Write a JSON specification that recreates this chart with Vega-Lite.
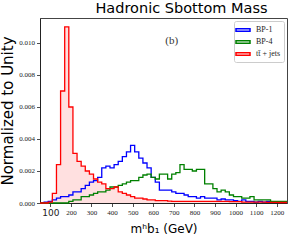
{
  "$schema": "https://vega.github.io/schema/vega-lite/v6.json",
  "width": 247,
  "height": 185,
  "autosize": {"type": "none"},
  "padding": {"left": 40, "top": 18, "right": 8, "bottom": 37},
  "background": "white",
  "title": {"text": "Hadronic Sbottom Mass", "font": "DejaVu Sans", "fontSize": 14.5, "fontWeight": "normal", "color": "black", "anchor": "middle", "frame": "group", "offset": 2, "dx": 18},
  "config": {
    "view": {"stroke": "#444444", "strokeWidth": 1},
    "axis": {"domainColor": "#222222", "tickColor": "#222222", "grid": false, "labelColor": "#222222", "tickSize": 3.5, "tickWidth": 0.8, "labelOverlap": false, "labelFlush": false}
  },
  "datasets": {
    "hist": [
      {"m":50,"s":"BP-1","v":0},{"m":70,"s":"BP-1","v":0.00005},{"m":90,"s":"BP-1","v":0.0001},{"m":110,"s":"BP-1","v":0.0002},{"m":130,"s":"BP-1","v":0.0003},{"m":150,"s":"BP-1","v":0.0004},{"m":170,"s":"BP-1","v":0.0004},{"m":190,"s":"BP-1","v":0.0005},{"m":210,"s":"BP-1","v":0.0007},{"m":230,"s":"BP-1","v":0.0007},{"m":250,"s":"BP-1","v":0.0009},{"m":270,"s":"BP-1","v":0.0011},{"m":290,"s":"BP-1","v":0.0013},{"m":310,"s":"BP-1","v":0.0014},{"m":330,"s":"BP-1","v":0.0016},{"m":350,"s":"BP-1","v":0.0022},{"m":370,"s":"BP-1","v":0.0023},{"m":390,"s":"BP-1","v":0.0022},{"m":410,"s":"BP-1","v":0.0024},{"m":430,"s":"BP-1","v":0.0026},{"m":450,"s":"BP-1","v":0.0029},{"m":470,"s":"BP-1","v":0.0032},{"m":490,"s":"BP-1","v":0.0036},{"m":510,"s":"BP-1","v":0.0032},{"m":530,"s":"BP-1","v":0.0028},{"m":550,"s":"BP-1","v":0.0025},{"m":570,"s":"BP-1","v":0.0022},{"m":590,"s":"BP-1","v":0.0016},{"m":610,"s":"BP-1","v":0.0013},{"m":630,"s":"BP-1","v":0.0008},{"m":650,"s":"BP-1","v":0.0008},{"m":670,"s":"BP-1","v":0.0008},{"m":690,"s":"BP-1","v":0.0007},{"m":710,"s":"BP-1","v":0.0006},{"m":730,"s":"BP-1","v":0.0006},{"m":750,"s":"BP-1","v":0.0005},{"m":770,"s":"BP-1","v":0.0004},{"m":790,"s":"BP-1","v":0.0004},{"m":810,"s":"BP-1","v":0.0003},{"m":830,"s":"BP-1","v":0.0004},{"m":850,"s":"BP-1","v":0.0003},{"m":870,"s":"BP-1","v":0.0003},{"m":890,"s":"BP-1","v":0.0003},{"m":910,"s":"BP-1","v":0.0002},{"m":930,"s":"BP-1","v":0.00025},{"m":950,"s":"BP-1","v":0.0002},{"m":970,"s":"BP-1","v":0.0002},{"m":990,"s":"BP-1","v":0.00015},{"m":1010,"s":"BP-1","v":0.0001},{"m":1030,"s":"BP-1","v":0.0002},{"m":1050,"s":"BP-1","v":0.0001},{"m":1070,"s":"BP-1","v":0.0001},{"m":1090,"s":"BP-1","v":0.00005},{"m":1110,"s":"BP-1","v":0.0001},{"m":1130,"s":"BP-1","v":0.00005},{"m":1150,"s":"BP-1","v":0.0001},{"m":1170,"s":"BP-1","v":0.00005},{"m":1190,"s":"BP-1","v":0.00005},{"m":1210,"s":"BP-1","v":0.00005},{"m":1230,"s":"BP-1","v":0.00005},{"m":1250,"s":"BP-1","v":0.00005},
      {"m":50,"s":"BP-4","v":0},{"m":70,"s":"BP-4","v":0},{"m":90,"s":"BP-4","v":0},{"m":110,"s":"BP-4","v":0},{"m":130,"s":"BP-4","v":0},{"m":150,"s":"BP-4","v":0},{"m":170,"s":"BP-4","v":0},{"m":190,"s":"BP-4","v":0.0001},{"m":210,"s":"BP-4","v":0.0002},{"m":230,"s":"BP-4","v":0.0002},{"m":250,"s":"BP-4","v":0.0004},{"m":270,"s":"BP-4","v":0.0004},{"m":290,"s":"BP-4","v":0.0005},{"m":310,"s":"BP-4","v":0.0006},{"m":330,"s":"BP-4","v":0.0007},{"m":350,"s":"BP-4","v":0.0007},{"m":370,"s":"BP-4","v":0.0008},{"m":390,"s":"BP-4","v":0.001},{"m":410,"s":"BP-4","v":0.001},{"m":430,"s":"BP-4","v":0.0011},{"m":450,"s":"BP-4","v":0.0012},{"m":470,"s":"BP-4","v":0.0013},{"m":490,"s":"BP-4","v":0.0014},{"m":510,"s":"BP-4","v":0.0014},{"m":530,"s":"BP-4","v":0.0016},{"m":550,"s":"BP-4","v":0.00175},{"m":570,"s":"BP-4","v":0.0018},{"m":590,"s":"BP-4","v":0.0016},{"m":610,"s":"BP-4","v":0.0015},{"m":630,"s":"BP-4","v":0.0018},{"m":650,"s":"BP-4","v":0.0018},{"m":670,"s":"BP-4","v":0.0015},{"m":690,"s":"BP-4","v":0.0018},{"m":710,"s":"BP-4","v":0.0019},{"m":730,"s":"BP-4","v":0.0024},{"m":750,"s":"BP-4","v":0.0021},{"m":770,"s":"BP-4","v":0.0021},{"m":790,"s":"BP-4","v":0.002},{"m":810,"s":"BP-4","v":0.0021},{"m":830,"s":"BP-4","v":0.0021},{"m":850,"s":"BP-4","v":0.0012},{"m":870,"s":"BP-4","v":0.0012},{"m":890,"s":"BP-4","v":0.0009},{"m":910,"s":"BP-4","v":0.0007},{"m":930,"s":"BP-4","v":0.0008},{"m":950,"s":"BP-4","v":0.0007},{"m":970,"s":"BP-4","v":0.0005},{"m":990,"s":"BP-4","v":0.0004},{"m":1010,"s":"BP-4","v":0.0004},{"m":1030,"s":"BP-4","v":0.0003},{"m":1050,"s":"BP-4","v":0.0003},{"m":1070,"s":"BP-4","v":0.0004},{"m":1090,"s":"BP-4","v":0.0002},{"m":1110,"s":"BP-4","v":0.0002},{"m":1130,"s":"BP-4","v":0.0002},{"m":1150,"s":"BP-4","v":0.0002},{"m":1170,"s":"BP-4","v":0.0001},{"m":1190,"s":"BP-4","v":0.0001},{"m":1210,"s":"BP-4","v":0.0001},{"m":1230,"s":"BP-4","v":0.0001},{"m":1250,"s":"BP-4","v":0.0001},
      {"m":50,"s":"tt̄ + jets","v":0},{"m":70,"s":"tt̄ + jets","v":0},{"m":90,"s":"tt̄ + jets","v":0.00005},{"m":110,"s":"tt̄ + jets","v":0.0006},{"m":130,"s":"tt̄ + jets","v":0.0024},{"m":150,"s":"tt̄ + jets","v":0.007},{"m":170,"s":"tt̄ + jets","v":0.011},{"m":190,"s":"tt̄ + jets","v":0.006},{"m":210,"s":"tt̄ + jets","v":0.0031},{"m":230,"s":"tt̄ + jets","v":0.0026},{"m":250,"s":"tt̄ + jets","v":0.0023},{"m":270,"s":"tt̄ + jets","v":0.002},{"m":290,"s":"tt̄ + jets","v":0.0018},{"m":310,"s":"tt̄ + jets","v":0.0015},{"m":330,"s":"tt̄ + jets","v":0.0013},{"m":350,"s":"tt̄ + jets","v":0.0012},{"m":370,"s":"tt̄ + jets","v":0.0009},{"m":390,"s":"tt̄ + jets","v":0.0009},{"m":410,"s":"tt̄ + jets","v":0.001},{"m":430,"s":"tt̄ + jets","v":0.0007},{"m":450,"s":"tt̄ + jets","v":0.0006},{"m":470,"s":"tt̄ + jets","v":0.0005},{"m":490,"s":"tt̄ + jets","v":0.0004},{"m":510,"s":"tt̄ + jets","v":0.0003},{"m":530,"s":"tt̄ + jets","v":0.0003},{"m":550,"s":"tt̄ + jets","v":0.00025},{"m":570,"s":"tt̄ + jets","v":0.0002},{"m":590,"s":"tt̄ + jets","v":0.0002},{"m":610,"s":"tt̄ + jets","v":0.00015},{"m":630,"s":"tt̄ + jets","v":0.00015},{"m":650,"s":"tt̄ + jets","v":0.00015},{"m":670,"s":"tt̄ + jets","v":0.00012},{"m":690,"s":"tt̄ + jets","v":0.0001},{"m":710,"s":"tt̄ + jets","v":0.0001},{"m":730,"s":"tt̄ + jets","v":0.0001},{"m":750,"s":"tt̄ + jets","v":0.0001},{"m":770,"s":"tt̄ + jets","v":0.0001},{"m":790,"s":"tt̄ + jets","v":0.0001},{"m":810,"s":"tt̄ + jets","v":0.0001},{"m":830,"s":"tt̄ + jets","v":0.0001},{"m":850,"s":"tt̄ + jets","v":0.0001},{"m":870,"s":"tt̄ + jets","v":0.0001},{"m":890,"s":"tt̄ + jets","v":0.0001},{"m":910,"s":"tt̄ + jets","v":0.0001},{"m":930,"s":"tt̄ + jets","v":0.0001},{"m":950,"s":"tt̄ + jets","v":0.0001},{"m":970,"s":"tt̄ + jets","v":0.00008},{"m":990,"s":"tt̄ + jets","v":0.00008},{"m":1010,"s":"tt̄ + jets","v":0.00008},{"m":1030,"s":"tt̄ + jets","v":0.00006},{"m":1050,"s":"tt̄ + jets","v":0.00006},{"m":1070,"s":"tt̄ + jets","v":0.00006},{"m":1090,"s":"tt̄ + jets","v":0.00005},{"m":1110,"s":"tt̄ + jets","v":0.00005},{"m":1130,"s":"tt̄ + jets","v":0.00005},{"m":1150,"s":"tt̄ + jets","v":0.00004},{"m":1170,"s":"tt̄ + jets","v":0.00004},{"m":1190,"s":"tt̄ + jets","v":0.00004},{"m":1210,"s":"tt̄ + jets","v":0.00003},{"m":1230,"s":"tt̄ + jets","v":0.00003},{"m":1250,"s":"tt̄ + jets","v":0.00003}
    ],
    "notes": [{"m": 690, "v": 0.0101, "t": "(b)"}]
  },
  "data": {"name": "hist"},
  "layer": [
    {
      "transform": [{"filter": "datum.s === 'tt̄ + jets'"}],
      "mark": {"type": "area", "interpolate": "step-after", "color": "#ff0000", "opacity": 0.12},
      "encoding": {
        "x": {"field": "m", "type": "quantitative", "scale": {"domain": [50, 1250], "nice": false, "zero": false}},
        "y": {"field": "v", "type": "quantitative", "scale": {"domain": [0, 0.01156], "nice": false}}
      }
    },
    {
      "mark": {"type": "line", "interpolate": "step-after", "strokeWidth": 1.3},
      "encoding": {
        "x": {"field": "m", "type": "quantitative",
          "axis": {"values": [100,200,300,400,500,600,700,800,900,1000,1100,1200], "tickCount": 30, "format": "d", "labelOverlap": false, "labelFlush": false,
            "labelFont": {"condition": {"test": "datum.value == 100", "value": "DejaVu Sans"}, "value": "Liberation Serif"},
            "labelFontSize": {"condition": {"test": "datum.value == 100", "value": 9}, "value": 7},
            "labelPadding": 2,
            "title": "mʰb₁ (GeV)", "titleFont": "DejaVu Sans", "titleFontSize": 12, "titleFontWeight": "normal", "titleColor": "black", "titlePadding": 6}},
        "y": {"field": "v", "type": "quantitative",
          "axis": {"values": [0,0.002,0.004,0.006,0.008,0.01], "tickCount": 20, "format": ".3f", "labelOverlap": false, "labelFlush": false,
            "labelFont": "Liberation Serif", "labelFontSize": 7, "labelPadding": 2,
            "title": "Normalized to Unity", "titleFont": "DejaVu Sans", "titleFontSize": 15, "titleFontWeight": "normal", "titleColor": "black", "titlePadding": 3}},
        "color": {"field": "s", "type": "nominal",
          "scale": {"domain": ["BP-1", "BP-4", "tt̄ + jets"], "range": ["#0000ff", "#008000", "#ff0000"]},
          "legend": {"title": null, "orient": "top-right", "offset": 3, "fillColor": "white", "strokeColor": "#cccccc", "padding": 3, "cornerRadius": 2,
            "symbolType": "M-1.4,-0.25H1.4V0.25H-1.4Z", "symbolSize": 100, "symbolStrokeWidth": 1.5, "labelFont": "Liberation Serif", "labelFontSize": 8, "labelOffset": 7, "rowPadding": 1, "labelColor": "#222222"}}
      }
    },
    {
      "data": {"name": "notes"},
      "mark": {"type": "text", "font": "Liberation Serif", "fontSize": 11, "color": "#333333"},
      "encoding": {
        "x": {"field": "m", "type": "quantitative"},
        "y": {"field": "v", "type": "quantitative"},
        "text": {"field": "t"}
      }
    }
  ]
}
